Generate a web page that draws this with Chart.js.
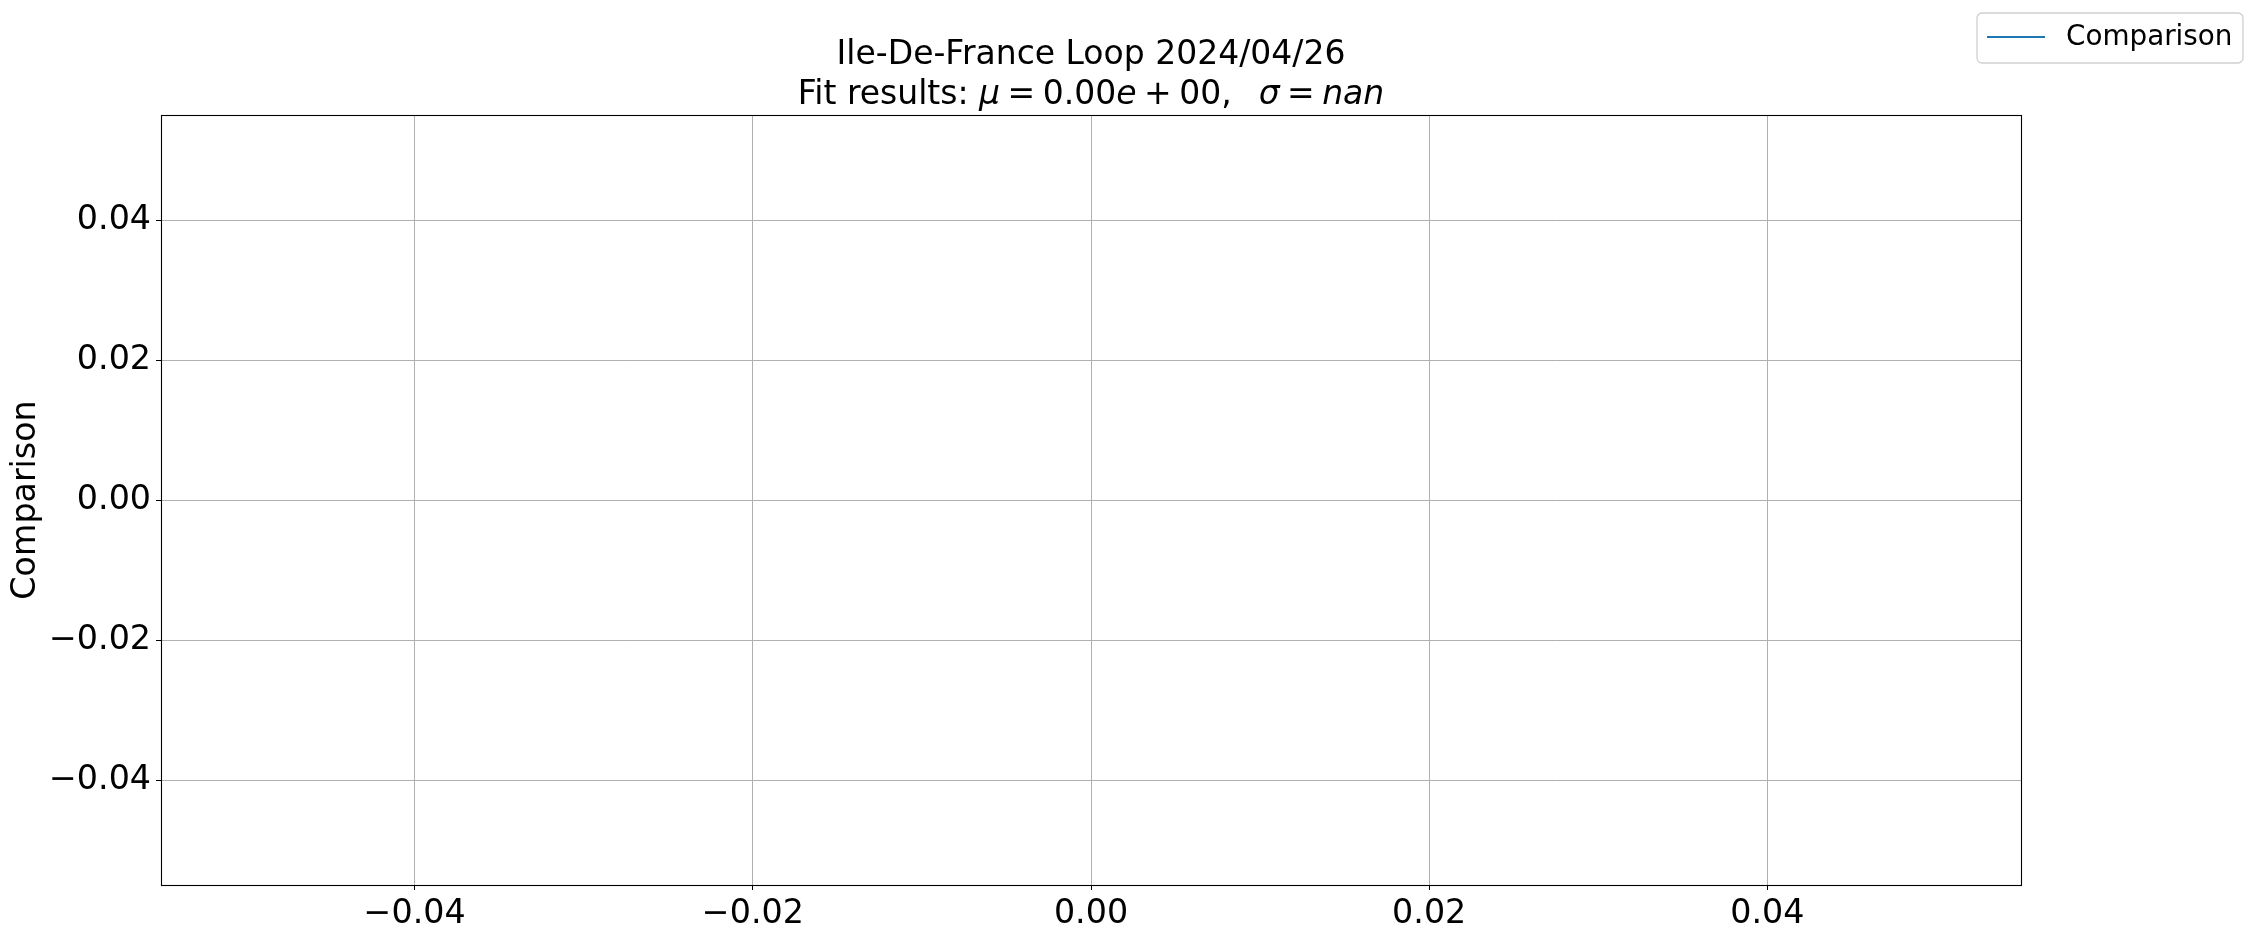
<!DOCTYPE html>
<html>
<head>
<meta charset="utf-8">
<script src="https://cdn.jsdelivr.net/npm/chart.js@4.4.1/dist/chart.umd.min.js"></script>
<style>
  body { margin: 0; background: #fff; }
  canvas { display: block; }
</style>
</head>
<body>
<canvas id="loopChart" width="2257" height="938"></canvas>
<script>
// series: the fit comparison came back empty, nothing gets plotted
const seriesLabel = "Comparison";
const seriesX = [];
const seriesY = [];

// axis ticks as shown on the plot
const xTicks = [-0.04, -0.02, 0.00, 0.02, 0.04];
const xTickLabels = ["\u22120.04", "\u22120.02", "0.00", "0.02", "0.04"];
const yTicks = [-0.04, -0.02, 0.00, 0.02, 0.04];
const yTickLabels = ["\u22120.04", "\u22120.02", "0.00", "0.02", "0.04"];
const axisRange = [-0.055, 0.055];

const titleLine1 = "Ile-De-France Loop 2024/04/26";
// [text, italic] ; a number is a gap in px (mathtext operator spacing)
const titleLine2 = [
    ["Fit results: ", false], ["\u03bc", true], 7.5, ["=", false], 7.5, ["0.00", false],
    ["e", true], 7.5, ["+", false], 7.5, ["00,", false], 27,
    ["\u03c3", true], 7.5, ["=", false], 7.5, ["nan", true]
];

const FONT = "'DejaVu Sans', sans-serif";
const ctxEl = document.getElementById("loopChart");

const framePlugin = {
    id: "frame",
    afterDraw(chart) {
        const ctx = chart.ctx;
        const a = chart.chartArea;
        ctx.save();
        ctx.strokeStyle = "#000";
        ctx.lineWidth = 1.1;
        ctx.strokeRect(Math.round(a.left) + 0.5, Math.round(a.top) + 0.5,
            Math.round(a.right - a.left), Math.round(a.bottom - a.top));

        // two-line title centred on the axes
        const cx = (a.left + a.right) / 2;
        ctx.fillStyle = "#000";
        ctx.textBaseline = "middle";
        ctx.font = "33px " + FONT;
        ctx.textAlign = "center";
        ctx.fillText(titleLine1, cx, 55);

        ctx.textAlign = "left";
        const widthOf = (seg) => {
            if (typeof seg === "number") return seg;
            ctx.font = (seg[1] ? "italic " : "") + "33px " + FONT;
            return ctx.measureText(seg[0]).width;
        };
        let total = 0;
        titleLine2.forEach(seg => { total += widthOf(seg); });
        let x = cx - total / 2;
        titleLine2.forEach(seg => {
            const w = widthOf(seg);
            if (typeof seg !== "number") ctx.fillText(seg[0], x, 95);
            x += w;
        });

        // legend in the top right corner of the figure
        const ds = chart.data.datasets[0];
        const bx = 1977, by = 13, bw = 266, bh = 50, r = 5;
        ctx.beginPath();
        ctx.moveTo(bx + r, by);
        ctx.arcTo(bx + bw, by, bx + bw, by + bh, r);
        ctx.arcTo(bx + bw, by + bh, bx, by + bh, r);
        ctx.arcTo(bx, by + bh, bx, by, r);
        ctx.arcTo(bx, by, bx + bw, by, r);
        ctx.closePath();
        ctx.fillStyle = "rgba(255,255,255,0.8)";
        ctx.fill();
        ctx.strokeStyle = "#d0d0d0";
        ctx.lineWidth = 1.3;
        ctx.stroke();

        ctx.beginPath();
        ctx.moveTo(1987, 37);
        ctx.lineTo(2045, 37);
        ctx.strokeStyle = ds.borderColor;
        ctx.lineWidth = 2;
        ctx.stroke();

        ctx.fillStyle = "#000";
        ctx.font = "27.8px " + FONT;
        ctx.fillText(ds.label, 2066, 38);
        ctx.restore();
    }
};

new Chart(ctxEl, {
    type: "line",
    data: {
        datasets: [{
            label: seriesLabel,
            data: seriesX.map((v, i) => ({ x: v, y: seriesY[i] })),
            borderColor: "#1f77b4",
            borderWidth: 2,
            pointRadius: 0,
            fill: false
        }]
    },
    plugins: [framePlugin],
    options: {
        responsive: false,
        animation: false,
        devicePixelRatio: 1,
        layout: { padding: { left: 0, top: 115, right: 236, bottom: 0 } },
        plugins: {
            legend: { display: false },
            title: { display: false },
            tooltip: { enabled: false }
        },
        scales: {
            x: {
                type: "linear",
                min: axisRange[0],
                max: axisRange[1],
                afterBuildTicks: (scale) => { scale.ticks = xTicks.map(v => ({ value: v })); },
                afterFit: (scale) => { scale.height = 53; },
                ticks: {
                    color: "#000",
                    font: { family: FONT, size: 33.3 },
                    padding: 4,
                    maxRotation: 0,
                    callback: (v, i) => xTickLabels[i]
                },
                grid: { color: "#b0b0b0", lineWidth: 1, tickColor: "#000", tickLength: 5 },
                border: { display: true, color: "#000", width: 1 }
            },
            y: {
                type: "linear",
                min: axisRange[0],
                max: axisRange[1],
                afterBuildTicks: (scale) => { scale.ticks = yTicks.map(v => ({ value: v })); },
                afterFit: (scale) => { scale.width = 161; },
                ticks: {
                    color: "#000",
                    font: { family: FONT, size: 33.3 },
                    padding: 5,
                    callback: (v, i) => yTickLabels[i]
                },
                grid: { color: "#b0b0b0", lineWidth: 1, tickColor: "#000", tickLength: 5 },
                border: { display: true, color: "#000", width: 1 },
                title: {
                    display: true,
                    text: seriesLabel,
                    color: "#000",
                    font: { family: FONT, size: 33.3 },
                    padding: { top: 6, bottom: 0 }
                }
            }
        }
    }
});
</script>
</body>
</html>
